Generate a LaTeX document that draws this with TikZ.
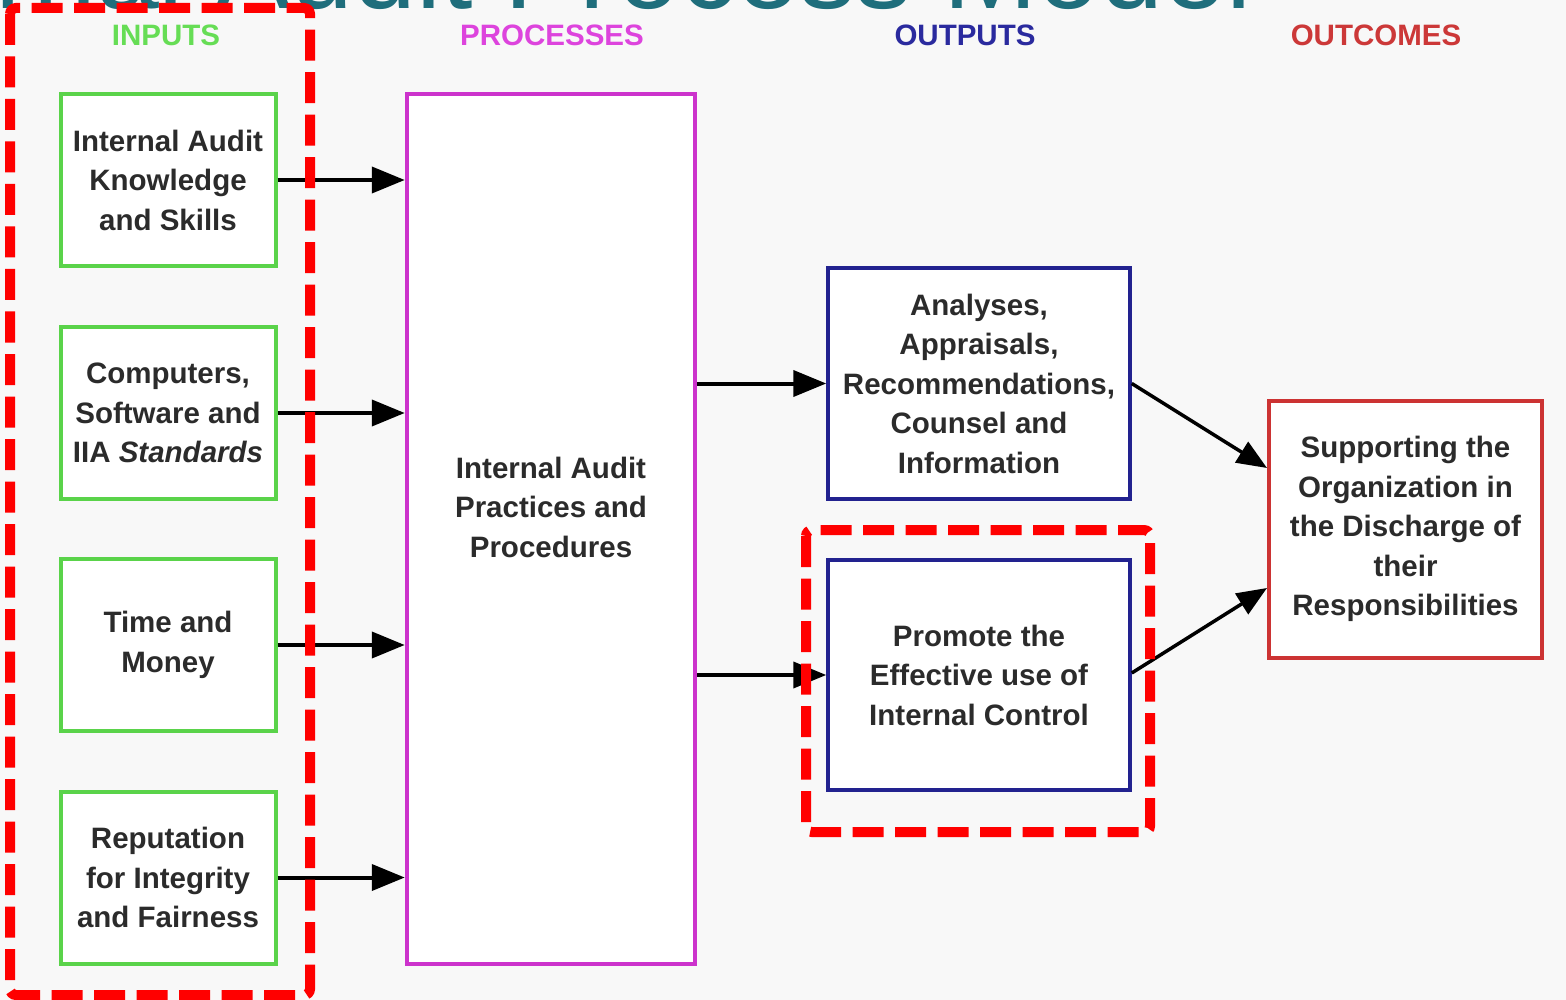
\documentclass[tikz,border=0pt]{standalone}
\usepackage{fontspec}
\setmainfont{Liberation Sans}
\usetikzlibrary{arrows.meta}

\definecolor{bgcol}{HTML}{F8F8F8}
\definecolor{titlecol}{HTML}{1F6E7C}
\definecolor{incol}{HTML}{5AD34A}
\definecolor{inhdr}{HTML}{66DD55}
\definecolor{proccol}{HTML}{CC33CC}
\definecolor{prochdr}{HTML}{DD44DD}
\definecolor{outcol}{HTML}{22228F}
\definecolor{outhdr}{HTML}{2A2A9E}
\definecolor{rescol}{HTML}{CC3333}
\definecolor{reshdr}{HTML}{CC3838}
\definecolor{txtcol}{HTML}{2B2B2B}
\definecolor{hlred}{HTML}{FF0000}

\begin{document}
\begin{tikzpicture}[x=1pt,y=-1pt,
  hdr/.style={inner sep=0pt, font=\bfseries\fontsize{29.5}{35}\selectfont},
  boxtext/.style={align=center, text=txtcol, inner sep=0pt,
    font=\bfseries\fontsize{29.5}{39.5}\selectfont},
  box/.style={draw, line width=4pt, fill=white, inner sep=0pt,
    boxtext},
  inbox/.style={box, draw=incol, minimum width=215pt, minimum height=172pt},
  outbox/.style={box, draw=outcol, minimum width=301.5pt, minimum height=230pt},
  arr/.style={line width=4pt, draw=black, -{Triangle[length=33pt,width=26pt]}},
  thinarr/.style={line width=3.5pt, draw=black, -{Triangle[length=30pt,width=24pt]}},
  hlbox/.style={draw=hlred, line width=10pt, dash pattern=on 31pt off 11.5pt,
    rounded corners=6pt}
]
\useasboundingbox (0,0) rectangle (1566,1000);
\fill[bgcol] (0,0) rectangle (1566,1000);

% title, running off the top edge
\node[anchor=base east, inner sep=0pt, text=titlecol,
  font=\fontsize{113}{113}\selectfont] (title) at (1252,9)
  {Internal Audit Process Model};

% column headings
\node[hdr, text=inhdr]   (hin)   at (166,35)  {INPUTS};
\node[hdr, text=prochdr] (hproc) at (552,35)  {PROCESSES};
\node[hdr, text=outhdr]  (hout)  at (965,35)  {OUTPUTS};
\node[hdr, text=reshdr]  (hres)  at (1376,35) {OUTCOMES};

% inputs
\node[inbox] (in1) at (168,180)   {Internal Audit\\Knowledge\\and Skills};
\node[inbox] (in2) at (168,413)   {Computers,\\Software and\\IIA \textit{Standards}};
\node[inbox] (in3) at (168,645)   {Time and\\Money};
\node[inbox] (in4) at (168,877.5) {Reputation\\for Integrity\\and Fairness};

% processes
\node[box, draw=proccol, minimum width=288.5pt, minimum height=870pt] (proc) at (551,529) {};
\node[boxtext] (proctxt) at (551,507) {Internal Audit\\Practices and\\Procedures};

% outputs
\node[outbox] (out1) at (979,383.5) {Analyses,\\Appraisals,\\Recommendations,\\Counsel and\\Information};
\node[outbox] (out2) at (979,675) {Promote the\\Effective use of\\Internal Control};

% outcome
\node[box, draw=rescol, minimum width=273pt, minimum height=257pt] (res) at (1405.5,529)
  {Supporting the\\Organization in\\the Discharge of\\their\\Responsibilities};

% connectors
\foreach \n in {in1,in2,in3,in4}
  \draw[arr] (\n.east) -- (\n.east -| proc.west);
\draw[arr] (proc.east |- out1.west) -- (out1.west);
\draw[arr] (proc.east |- out2.west) -- (out2.west);
\draw[thinarr] (out1.east) -- ([yshift=61pt]res.west);
\draw[thinarr] ([yshift=2pt]out2.east) -- ([yshift=-59pt]res.west);

% highlight frames
\draw[hlbox] (10,8) rectangle (310,995);
\draw[hlbox] (806,530) rectangle (1150,832);
\end{tikzpicture}
\end{document}
